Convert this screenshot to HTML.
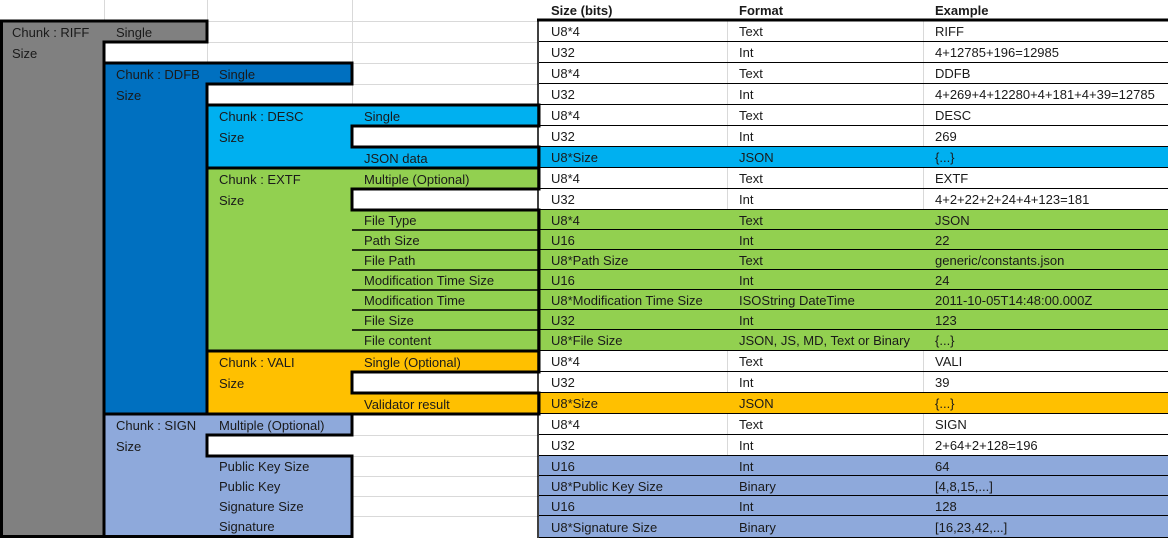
<!DOCTYPE html>
<html><head><meta charset="utf-8"><style>
html,body{margin:0;padding:0;background:#fff}
#w{position:relative;width:1168px;height:538px;overflow:hidden;font-family:"Liberation Sans",sans-serif;font-size:13px;color:#1a1a1a}
.t{position:absolute;white-space:nowrap;line-height:21px}
.r{position:absolute;left:539px;width:629px;border-bottom:1px solid #000;box-sizing:border-box}
.r span{position:absolute;top:0;white-space:nowrap}
.r .a{left:12px}.r .b{left:200px}.r .c{left:396px}
.g{position:absolute;background:#d9d9d9}
svg{position:absolute;left:0;top:0}
</style></head><body><div id="w">
<div class="g" style="left:104px;top:0;width:1px;height:21px"></div>
<div class="g" style="left:207px;top:0;width:1px;height:63px"></div>
<div class="g" style="left:352px;top:0;width:1px;height:105px"></div>
<div class="g" style="left:0;top:21px;width:539px;height:1px"></div>
<div class="g" style="left:207px;top:42px;width:332px;height:1px"></div>
<div class="g" style="left:352px;top:63px;width:187px;height:1px"></div>
<div class="g" style="left:352px;top:84px;width:187px;height:1px"></div>
<div class="g" style="left:352px;top:435px;width:187px;height:1px"></div>
<div class="g" style="left:352px;top:456px;width:187px;height:1px"></div>
<div class="g" style="left:352px;top:476px;width:187px;height:1px"></div>
<div class="g" style="left:352px;top:496px;width:187px;height:1px"></div>
<div class="g" style="left:352px;top:516px;width:187px;height:1px"></div>

<div id="rows"></div>

<svg width="1168" height="538" style="pointer-events:none">
<g stroke="#000" stroke-width="3" stroke-linejoin="miter">
<polygon fill="#808080" points="1.5,21 207,21 207,42 104,42 104,536.5 1.5,536.5"/>
<polygon fill="#0070C0" points="104,63 352,63 352,84 207,84 207,414 104,414"/>
<polygon fill="#00B0F0" points="207,105 539,105 539,126 352,126 352,147 539,147 539,168 207,168"/>
<polygon fill="#92D050" points="207,168 539,168 539,189 352,189 352,210 539,210 539,351 207,351"/>
<polygon fill="#FFC000" points="207,351 539,351 539,372 352,372 352,393 539,393 539,414 207,414"/>
<polygon fill="#8EA9DB" points="104,414 352,414 352,435 207,435 207,456 352,456 352,536.5 104,536.5"/>
</g>
<g stroke="#000" stroke-width="1.5">
<line x1="352" y1="230" x2="539" y2="230"/><line x1="352" y1="250" x2="539" y2="250"/>
<line x1="352" y1="270" x2="539" y2="270"/><line x1="352" y1="290" x2="539" y2="290"/>
<line x1="352" y1="310" x2="539" y2="310"/><line x1="352" y1="330" x2="539" y2="330"/>
<line x1="538" y1="21" x2="538" y2="538"/>
</g>
<line x1="537" y1="20" x2="1168" y2="20" stroke="#000" stroke-width="3"/>
</svg>

<div class="t" style="left:551px;top:0;font-weight:bold">Size (bits)</div>
<div class="t" style="left:739px;top:0;font-weight:bold">Format</div>
<div class="t" style="left:935px;top:0;font-weight:bold">Example</div>

<div class="t" style="left:12px;top:22px">Chunk : RIFF</div>
<div class="t" style="left:116px;top:22px">Single</div>
<div class="t" style="left:12px;top:43px">Size</div>
<div class="t" style="left:116px;top:64px">Chunk : DDFB</div>
<div class="t" style="left:219px;top:64px">Single</div>
<div class="t" style="left:116px;top:85px">Size</div>
<div class="t" style="left:219px;top:106px">Chunk : DESC</div>
<div class="t" style="left:364px;top:106px">Single</div>
<div class="t" style="left:219px;top:127px">Size</div>
<div class="t" style="left:364px;top:148px">JSON data</div>
<div class="t" style="left:219px;top:169px">Chunk : EXTF</div>
<div class="t" style="left:364px;top:169px">Multiple (Optional)</div>
<div class="t" style="left:219px;top:190px">Size</div>
<div class="t" style="left:364px;top:210px">File Type</div>
<div class="t" style="left:364px;top:230px">Path Size</div>
<div class="t" style="left:364px;top:250px">File Path</div>
<div class="t" style="left:364px;top:270px">Modification Time Size</div>
<div class="t" style="left:364px;top:290px">Modification Time</div>
<div class="t" style="left:364px;top:310px">File Size</div>
<div class="t" style="left:364px;top:330px">File content</div>
<div class="t" style="left:219px;top:352px">Chunk : VALI</div>
<div class="t" style="left:364px;top:352px">Single (Optional)</div>
<div class="t" style="left:219px;top:373px">Size</div>
<div class="t" style="left:364px;top:394px">Validator result</div>
<div class="t" style="left:116px;top:415px">Chunk : SIGN</div>
<div class="t" style="left:219px;top:415px">Multiple (Optional)</div>
<div class="t" style="left:116px;top:436px">Size</div>
<div class="t" style="left:219px;top:456px">Public Key Size</div>
<div class="t" style="left:219px;top:476px">Public Key</div>
<div class="t" style="left:219px;top:496px">Signature Size</div>
<div class="t" style="left:219px;top:516px">Signature</div>
</div>
<script>
var tops=[21,42,63,84,105,126,147,168,189,210,230,250,270,290,310,330,351,372,393,414,435,456,476,496,516,538];
var d=[["U8*4","Text","RIFF"],["U32","Int","4+12785+196=12985"],["U8*4","Text","DDFB"],["U32","Int","4+269+4+12280+4+181+4+39=12785"],["U8*4","Text","DESC"],["U32","Int","269"],["U8*Size","JSON","{...}","#00B0F0"],["U8*4","Text","EXTF"],["U32","Int","4+2+22+2+24+4+123=181"],
["U8*4","Text","JSON","#92D050"],["U16","Int","22","#92D050"],["U8*Path Size","Text","generic/constants.json","#92D050"],["U16","Int","24","#92D050"],["U8*Modification Time Size","ISOString DateTime","2011-10-05T14:48:00.000Z","#92D050"],["U32","Int","123","#92D050"],["U8*File Size","JSON, JS, MD, Text or Binary","{...}","#92D050"],
["U8*4","Text","VALI"],["U32","Int","39"],["U8*Size","JSON","{...}","#FFC000"],["U8*4","Text","SIGN"],["U32","Int","2+64+2+128=196"],["U16","Int","64","#8EA9DB"],["U8*Public Key Size","Binary","[4,8,15,...]","#8EA9DB"],["U16","Int","128","#8EA9DB"],["U8*Signature Size","Binary","[16,23,42,...]","#8EA9DB"]];
var h="";
for(var i=0;i<d.length;i++){var t=tops[i],hh=tops[i+1]-t;var bg=d[i][3]||"#fff";
var sep=d[i][3]?"":"<div style='position:absolute;left:188px;top:0;width:1px;height:100%;background:#d9d9d9'></div><div style='position:absolute;left:384px;top:0;width:1px;height:100%;background:#d9d9d9'></div>";
h+="<div class='r' style='top:"+t+"px;height:"+hh+"px;line-height:"+(hh+1)+"px;background:"+bg+"'>"+sep+"<span class='a'>"+d[i][0]+"</span><span class='b'>"+d[i][1]+"</span><span class='c'>"+d[i][2]+"</span></div>";}
document.getElementById("rows").innerHTML=h;
</script>
</body></html>
